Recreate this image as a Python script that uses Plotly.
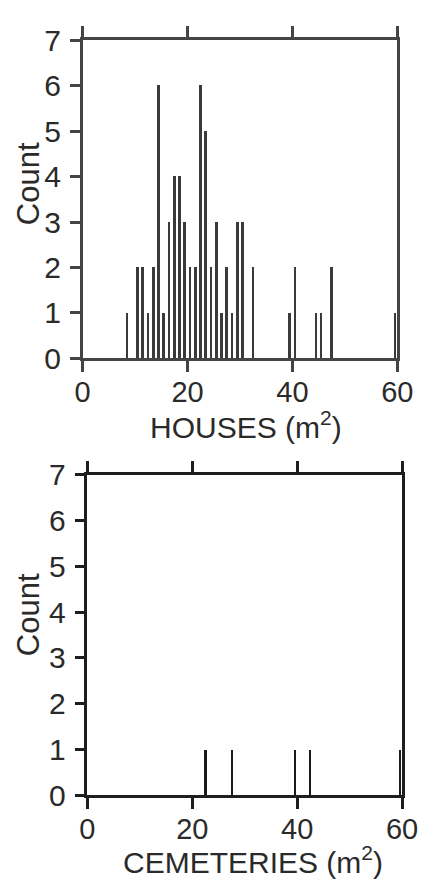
import plotly.graph_objects as go

# Houses: floor-area histogram (bins of 1 m2, bar drawn near bin centre)
house_area = [8.4, 10.4, 11.4, 12.4, 13.4, 14.4, 15.4, 16.4, 17.4, 18.4, 19.4, 20.4,
              21.4, 22.4, 23.4, 24.4, 25.4, 26.4, 27.4, 28.4, 29.4, 30.4, 32.4,
              39.4, 40.4, 44.4, 45.4, 47.4, 59.5]
house_count = [1, 2, 2, 1, 2, 6, 1, 3, 4, 4, 3, 2,
               2, 6, 5, 2, 3, 1, 2, 1, 3, 3, 2,
               1, 2, 1, 1, 2, 1]

# Cemeteries
cem_area = [22.6, 27.6, 39.6, 42.5, 59.7]
cem_count = [1, 1, 1, 1, 1]

x_ticks = [0, 20, 40, 60]
y_ticks = [0, 1, 2, 3, 4, 5, 6, 7]

W, H = 437, 893
FONT = "Liberation Sans, Arial, Helvetica, sans-serif"
INK = "#2a2a2a"

fig = go.Figure()
fig.add_trace(go.Bar(x=house_area, y=house_count, width=0.5,
                     marker=dict(color="#3a3a3a", line=dict(width=0)),
                     xaxis="x", yaxis="y", showlegend=False))
fig.add_trace(go.Bar(x=cem_area, y=cem_count, width=0.4,
                     marker=dict(color="#1a1a1a", line=dict(width=0)),
                     xaxis="x2", yaxis="y2", showlegend=False))

def xax(domain, anchor, col):
    return dict(domain=domain, anchor=anchor, range=[0, 60], tickvals=x_ticks,
                ticks="outside", ticklen=11, tickwidth=2.5, tickcolor=col,
                showline=True, linewidth=2.5, linecolor=col, mirror="ticks",
                showgrid=False, zeroline=False, ticklabelstandoff=-5,
                tickfont=dict(family=FONT, size=29, color=INK))

def yax(domain, anchor, col):
    return dict(domain=domain, anchor=anchor, range=[0, 7], tickvals=y_ticks,
                ticks="outside", ticklen=10, tickwidth=2.5, tickcolor=col,
                showline=True, linewidth=2.5, linecolor=col, mirror=True,
                showgrid=False, zeroline=False, ticklabelstandoff=3,
                tickfont=dict(family=FONT, size=30, color=INK))

def label(text, xp, yp, angle=0, size=30):
    return dict(text=text, x=xp / W, y=1 - yp / H, xref="paper", yref="paper",
                xanchor="center", yanchor="middle", textangle=angle,
                showarrow=False, font=dict(family=FONT, size=size, color=INK))

fig.update_layout(
    width=W, height=H, margin=dict(l=0, r=0, t=0, b=0),
    paper_bgcolor="white", plot_bgcolor="white", bargap=0,
    xaxis=xax([79 / W, 412 / W], "y", "#444444"),
    yaxis=yax([1 - 355 / H, 1 - 24 / H], "x", "#444444"),
    xaxis2=xax([84 / W, 417 / W], "y2", "#1e1e1e"),
    yaxis2=yax([1 - 809 / H, 1 - 476 / H], "x2", "#1e1e1e"),
    annotations=[
        label("HOUSES (m<sup>2</sup>)", 252, 424),
        label("CEMETERIES (m<sup>2</sup>)", 259, 876),
        label("Count", 22, 173, -90, 31),
        label("Count", 22, 621, -90, 31),
    ],
)

fig.write_html("out.html", config={"displayModeBar": False},
               post_script="document.body.style.margin='0px';")
